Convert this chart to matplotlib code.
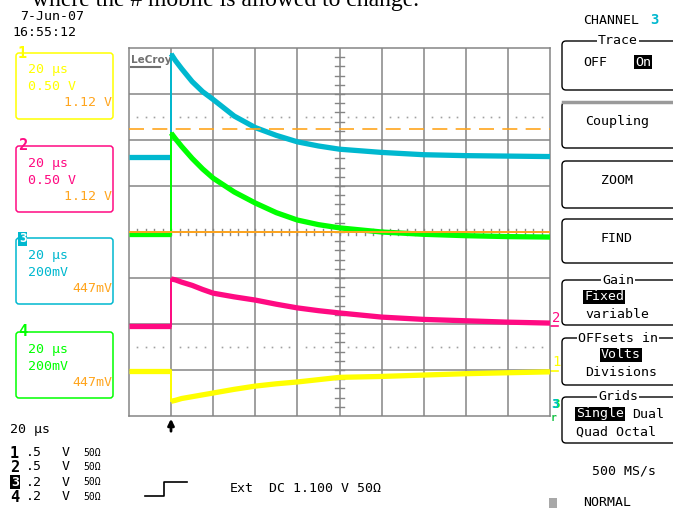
import numpy as np
import matplotlib.pyplot as plt
from matplotlib.patches import FancyBboxPatch, Rectangle

W, H = 673, 515
MONO = "DejaVu Sans Mono"

# time in screen divisions (20 us/div), trigger edge at 1.0 div
t = [0.0, 1.0, 1.0, 1.1, 1.25, 1.5, 1.75, 2.0, 2.5, 3.0, 3.5, 4.0, 4.5, 5.0, 6.0, 7.0, 8.0, 9.0, 10.0]
# trace levels in vertical divisions from screen centre
ch1 = [-3.02, -3.02, -3.68, -3.66, -3.62, -3.58, -3.54, -3.50, -3.42, -3.35, -3.30, -3.26, -3.21, -3.16, -3.14, -3.11, -3.08, -3.06, -3.04]
ch2 = [-2.04, -2.04, -1.02, -1.04, -1.09, -1.16, -1.25, -1.33, -1.41, -1.48, -1.57, -1.65, -1.71, -1.76, -1.85, -1.90, -1.93, -1.96, -1.98]
ch3 = [1.63, 1.63, 3.87, 3.73, 3.55, 3.27, 3.05, 2.88, 2.52, 2.27, 2.10, 1.96, 1.87, 1.80, 1.73, 1.68, 1.66, 1.65, 1.64]
ch4 = [-0.05, -0.05, 2.15, 2.03, 1.86, 1.60, 1.37, 1.17, 0.87, 0.63, 0.42, 0.26, 0.16, 0.09, 0.00, -0.05, -0.08, -0.10, -0.11]

trig_level = 0.0      # orange trigger line
cursor_level = 2.24   # orange dashed cursor
marker_level = 2.5    # dotted reference lines at +/- this

channels = ["1", "2", "3", "4"]
timebase = "20 µs"
volts_div = ["0.50 V", "0.50 V", "200mV", "200mV"]
offsets = ["1.12 V", "1.12 V", "447mV", "447mV"]
scale_short = [".5", ".5", ".2", ".2"]

colors = {"1": "#FFFF00", "2": "#FF0A82", "3": "#00B8CF", "4": "#00FF00"}
ORANGE = "#FFA51E"
GRID = "#858585"

fig = plt.figure(figsize=(W / 100, H / 100), dpi=100)
bg = fig.add_axes([0, 0, 1, 1])
bg.set_xlim(0, W)
bg.set_ylim(H, 0)
bg.axis("off")

# ---- scope graticule ----
gx0, gx1, gy0, gy1 = 129, 550, 48, 416
ax = fig.add_axes([gx0 / W, 1 - gy1 / H, (gx1 - gx0) / W, (gy1 - gy0) / H])
ax.set_xlim(0, 10)
ax.set_ylim(-4, 4)
ax.set_xticks([])
ax.set_yticks([])
ax.patch.set_alpha(0)
for s in ax.spines.values():
    s.set_color(GRID)
    s.set_linewidth(1.1)
for i in range(1, 10):
    ax.axvline(i, color=GRID, lw=1.1, zorder=1)
for j in range(-3, 4):
    ax.axhline(j, color=GRID, lw=1.1, zorder=1)

minor = np.arange(0.2, 10, 0.2)
for xm in minor:
    ax.plot([xm, xm], [-0.07, 0.07], color=GRID, lw=1.0, zorder=1)
for ym in np.arange(-3.8, 4, 0.2):
    ax.plot([4.9, 5.1], [ym, ym], color=GRID, lw=1.0, zorder=1)

dots = [x for x in minor if abs(x - round(x)) > 0.05]
for lvl in (marker_level, -marker_level):
    ax.plot(dots, [lvl] * len(dots), ls="none", marker="s", ms=1.2,
            color="#A0A0A0", mec="none", zorder=1)

# ---- traces ----
for name, data in [("3", ch3), ("4", ch4), ("2", ch2), ("1", ch1)]:
    c = colors[name]
    ax.plot(t[:2], data[:2], color=c, lw=3.8, solid_capstyle="butt", zorder=3)
    ax.plot(t[1:3], data[1:3], color=c, lw=1.4, zorder=3)
    ax.plot(t[2:], data[2:], color=c, lw=3.8, solid_capstyle="butt", zorder=3)

ax.axhline(trig_level, color=ORANGE, lw=1.4, zorder=4)
ax.axhline(cursor_level, color=ORANGE, lw=1.2, dashes=(9, 5), zorder=4)

# brand mark
bg.text(131, 60, "LeCroy", fontsize=7.5, color="#707070", family="DejaVu Sans Condensed",
        fontweight="bold", va="center", ha="left", zorder=5)
bg.plot([131, 160], [67, 67], color="#707070", lw=1.5)

# channel markers at right edge of the screen
bg.text(552, 318, "2", color=colors["2"], fontsize=10, family=MONO, va="center")
bg.plot([551, 558], [326, 326], color=colors["2"], lw=1.2)
bg.text(552, 362, "1", color=colors["1"], fontsize=10, family=MONO, va="center")
bg.plot([551, 558], [371, 371], color=colors["1"], lw=1.2)
bg.text(552, 405, "3", color=colors["4"], fontsize=9, family=MONO, va="center", fontweight="bold")
bg.text(551, 404, "3", color=colors["3"], fontsize=9, family=MONO, va="center", fontweight="bold")
bg.text(551, 418, "r", color="#10C040", fontsize=7, family=MONO, va="center", fontweight="bold")

# trigger position arrow
bg.annotate("", xy=(171, 416), xytext=(171, 434),
            arrowprops=dict(arrowstyle="-|>", color="black", lw=2, mutation_scale=9))

# ---- header ----
bg.text(20, 16, "7-Jun-07", fontsize=9.5, family=MONO, va="center")
bg.text(12, 33, "16:55:12", fontsize=9.5, family=MONO, va="center")
bg.text(32, 6, "where the # mobile is allowed to change.", fontsize=17,
        family="Liberation Serif", va="baseline", ha="left")

# ---- channel setup boxes ----
box_tops = [53, 146, 238, 332]
for k, name in enumerate(channels):
    c = colors[name]
    top = box_tops[k]
    bg.add_patch(FancyBboxPatch((16, top), 97, 66, boxstyle="round,pad=0,rounding_size=3",
                                fc="none", ec=c, lw=1.1))
    if name == "3":
        bg.text(19, top + 1, name, fontsize=9, family=MONO, fontweight="bold", color="white",
                va="center", ha="left", bbox=dict(fc=c, ec="none", pad=0.6))
    else:
        bg.text(18, top, name, fontsize=11, family=MONO, fontweight="bold", color=c,
                va="center", ha="left")
    bg.text(28, top + 17, timebase, fontsize=9.5, family=MONO, color=c, va="center")
    bg.text(28, top + 34, volts_div[k], fontsize=9.5, family=MONO, color=c, va="center")
    bg.text(112, top + 50, offsets[k], fontsize=9.5, family=MONO, color=ORANGE,
            va="center", ha="right")

# ---- bottom-left summary ----
bg.text(10, 430, timebase, fontsize=9.5, family=MONO, va="center")
rows_y = [453, 467, 482, 497]
for k, name in enumerate(channels):
    y = rows_y[k]
    if name == "3":
        bg.text(11, y, name, fontsize=9.5, family=MONO, fontweight="bold", color="white",
                va="center", bbox=dict(fc="black", ec="none", pad=0.4))
    else:
        bg.text(10, y, name, fontsize=11, family=MONO, fontweight="bold", va="center")
    bg.text(26, y, scale_short[k], fontsize=9.5, family=MONO, va="center")
    bg.text(62, y, "V", fontsize=9.5, family=MONO, va="center")
    bg.text(83, y, "50Ω", fontsize=7, family=MONO, va="center")

# trigger setup
bg.plot([145, 164, 164, 187], [496, 496, 482, 482], color="black", lw=1.2)
bg.text(230, 488, "Ext", fontsize=9.5, family=MONO, va="center")
bg.text(269, 488, "DC 1.100 V 50Ω", fontsize=9.5, family=MONO, va="center")

# ---- right-hand menu ----
bg.text(583, 20, "CHANNEL", fontsize=9.5, family=MONO, va="center")
bg.text(650, 20, "3", fontsize=10, family=MONO, va="center", fontweight="bold", color=colors["3"])


def menu_box(top, bottom, title=None, edge="black", lw=1.0):
    bg.add_patch(FancyBboxPatch((562, top), 140, bottom - top,
                                boxstyle="round,pad=0,rounding_size=4",
                                fc="none", ec=edge, lw=lw, clip_on=True))
    if title:
        bg.text(618, top, title, fontsize=9.5, family=MONO, va="center", ha="center",
                bbox=dict(fc="white", ec="none", pad=0.8))


def hilite(x, y, s, ha="left"):
    bg.text(x, y, s, fontsize=9.5, family=MONO, va="center", ha=ha, color="white",
            bbox=dict(fc="black", ec="none", pad=0.5))


menu_box(41, 90, "Trace")
bg.text(583, 62, "OFF", fontsize=9.5, family=MONO, va="center")
hilite(635, 62, "On")

menu_box(102, 148)
bg.plot([563, 673], [102, 102], color="#9A9A9A", lw=2.5)
bg.text(617, 121, "Coupling", fontsize=9.5, family=MONO, va="center", ha="center")

menu_box(161, 208)
bg.text(617, 180, "ZOOM", fontsize=9.5, family=MONO, va="center", ha="center")

menu_box(219, 263)
bg.text(617, 238, "FIND", fontsize=9.5, family=MONO, va="center", ha="center")

menu_box(280, 325, "Gain")
hilite(584, 297, "Fixed")
bg.text(585, 314, "variable", fontsize=9.5, family=MONO, va="center")

menu_box(338, 385, "OFFsets in")
hilite(621, 355, "Volts", ha="center")
bg.text(621, 373, "Divisions", fontsize=9.5, family=MONO, va="center", ha="center")

menu_box(397, 443, "Grids")
hilite(576, 414, "Single")
bg.text(632, 414, "Dual", fontsize=9.5, family=MONO, va="center")
bg.text(576, 432, "Quad Octal", fontsize=9.5, family=MONO, va="center")

bg.text(592, 471, "500 MS/s", fontsize=9.5, family=MONO, va="center")
bg.add_patch(Rectangle((549, 498), 8, 10, fc="#A8A8A8", ec="none"))
bg.text(583, 503, "NORMAL", fontsize=9.5, family=MONO, va="center")

fig.savefig("out.png", dpi=100)
